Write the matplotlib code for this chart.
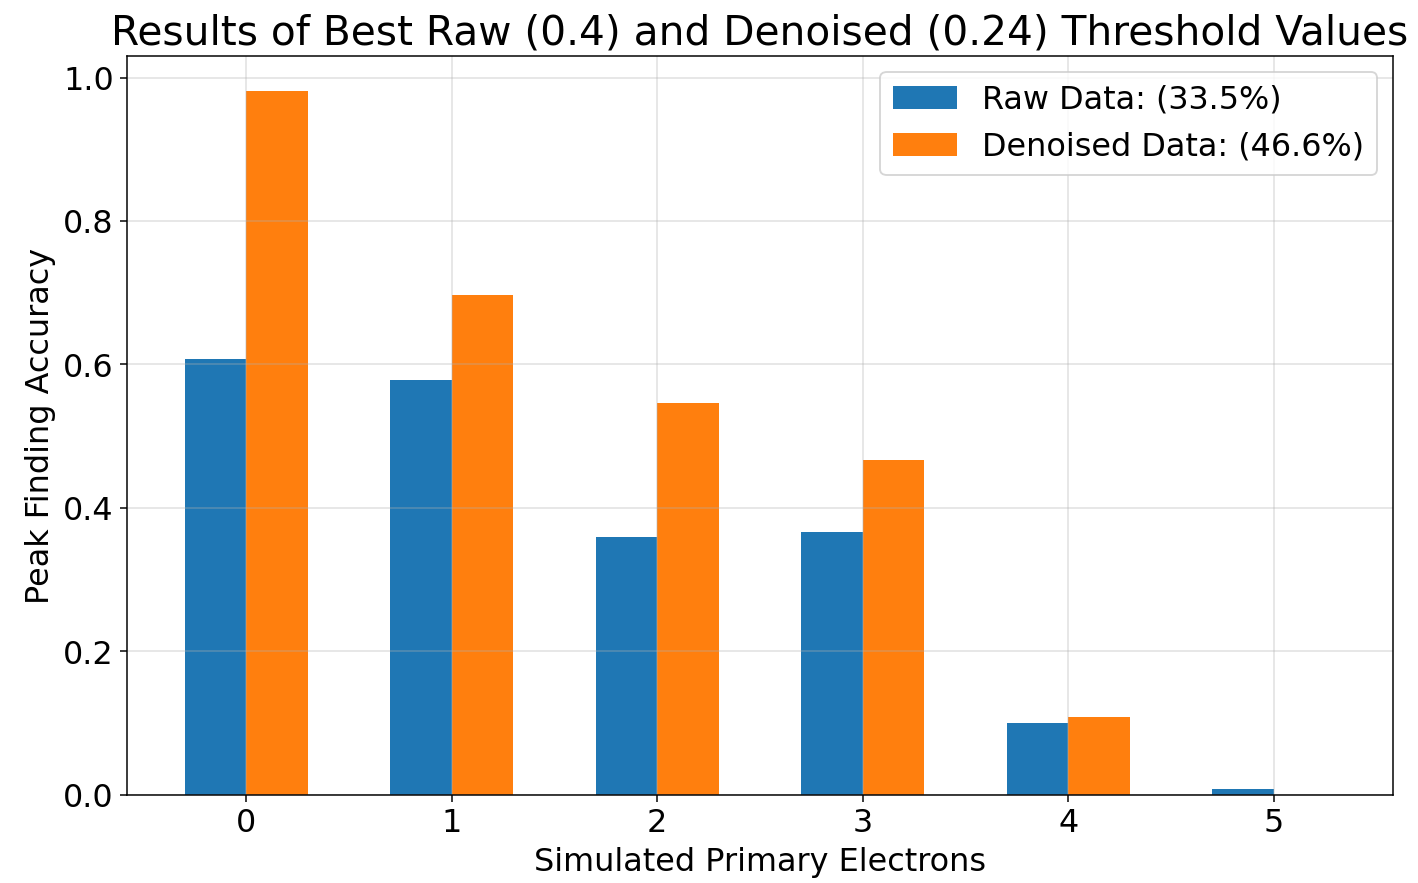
import numpy as np
import matplotlib
matplotlib.use("Agg")
import matplotlib.pyplot as plt

# values
electrons = [0, 1, 2, 3, 4, 5]
raw_acc = [0.607, 0.578, 0.360, 0.367, 0.100, 0.008]
denoised_acc = [0.981, 0.697, 0.546, 0.467, 0.108, 0.0]
raw_label = "Raw Data: (33.5%)"
denoised_label = "Denoised Data: (46.6%)"

width = 0.3
x = np.array(electrons)

fig = plt.figure(figsize=(10.511, 6.541), dpi=135)
ax = fig.add_axes([0.0895, 0.0997, 0.8922, 0.8369])

ax.bar(x - width, raw_acc, width, align="edge", color="#1f77b4", label=raw_label)
ax.bar(x, denoised_acc, width, align="edge", color="#ff7f0e", label=denoised_label)

ax.set_title("Results of Best Raw (0.4) and Denoised (0.24) Threshold Values", fontsize=21.7)
ax.set_xlabel("Simulated Primary Electrons", fontsize=17)
ax.set_ylabel("Peak Finding Accuracy", fontsize=17)
ax.set_xticks(electrons)
ax.tick_params(labelsize=17)
ax.grid(True, alpha=0.4)
ax.legend(fontsize=17, loc="upper right")

fig.savefig("out.png", dpi=135)
